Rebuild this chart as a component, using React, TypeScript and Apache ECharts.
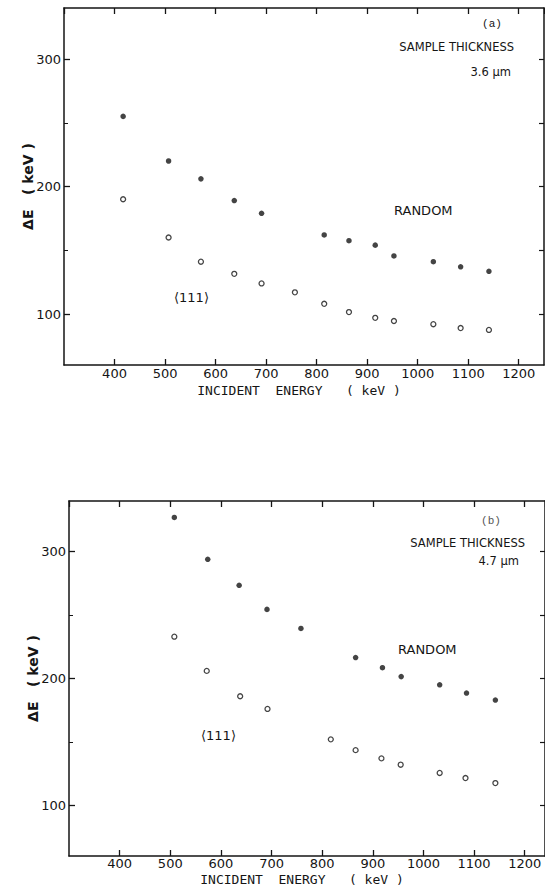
import React, { useEffect, useRef } from "react";
import * as echarts from "echarts";

// Panel (a): sample thickness 3.6 µm
const energyA_random = [417, 507, 571, 637, 691, 815, 864, 916, 953, 1031, 1085, 1141];
const deltaA_random = [255, 220, 206, 189, 179, 162, 157.5, 154, 145.5, 141, 137, 133.5];
const energyA_111 = [417, 507, 571, 637, 691, 757, 815, 864, 916, 953, 1031, 1085, 1141];
const deltaA_111 = [190, 160, 141, 131.5, 124, 117, 108, 101.5, 97, 94.5, 92, 89, 87.5];

// Panel (b): sample thickness 4.7 µm
const energyB_random = [508, 574, 636, 691, 758, 866, 919, 956, 1032, 1085, 1142];
const deltaB_random = [327, 294, 273.5, 254.5, 239.5, 216.5, 208.5, 201.5, 195, 188.5, 183];
const energyB_111 = [508, 572, 638, 692, 817, 866, 917, 955, 1032, 1083, 1142];
const deltaB_111 = [233, 206, 186, 176, 152, 143.5, 137, 132, 125.5, 121.5, 117.5];

const yMajorTicks = [100, 200, 300];
const yMinorTicks = [150, 250];
const yRightTicks = [100, 150, 200, 250, 300];

const xTitle = "INCIDENT  ENERGY   ( keV )";
const yTitle = "ΔE   ( keV )";

const INK = "#151515";
const FONT = "DejaVu Sans";

export default function App() {
  const ref = useRef<HTMLDivElement>(null);

  useEffect(() => {
    if (!ref.current) return;
    const chart = echarts.init(ref.current, undefined, { renderer: "svg" });

    const lineStyle = { color: INK, width: 1.5 };
    const plain = (v: number) => String(v);

    const xBottom = (gridIndex: number, max: number, nameGap: number, labelMargin: number) => ({
      type: "value",
      gridIndex,
      position: "bottom",
      min: 300,
      max,
      interval: 100,
      axisLine: { show: true, onZero: false, lineStyle },
      axisTick: { show: true, inside: true, length: 6, lineStyle: { color: INK, width: 1.3 } },
      axisLabel: {
        show: true,
        showMinLabel: false,
        showMaxLabel: false,
        margin: labelMargin,
        color: INK,
        fontSize: 13,
        fontFamily: FONT,
        formatter: plain,
      },
      splitLine: { show: false },
      name: xTitle,
      nameLocation: "middle",
      nameGap,
      nameMoveOverlap: false,
      nameTextStyle: { color: INK, fontSize: 13, fontFamily: "DejaVu Sans Mono", padding: [0, 10, 0, 0] },
    });

    const xTop = (gridIndex: number, max: number) => ({
      type: "value",
      gridIndex,
      position: "top",
      min: 300,
      max,
      interval: 100,
      axisLine: { show: true, onZero: false, lineStyle },
      axisTick: { show: true, inside: true, length: 6, lineStyle: { color: INK, width: 1.3 } },
      axisLabel: { show: false },
      splitLine: { show: false },
    });

    const yLeft = (gridIndex: number) => ({
      type: "value",
      gridIndex,
      position: "left",
      min: 60,
      max: 340,
      axisLine: { show: true, onZero: false, lineStyle },
      axisTick: { show: true, inside: true, length: 6, customValues: yMajorTicks, lineStyle: { color: INK, width: 1.3 } },
      axisLabel: { show: true, customValues: yMajorTicks, margin: 3, color: INK, fontSize: 13, fontFamily: FONT, formatter: plain },
      splitLine: { show: false },
      name: yTitle,
      nameLocation: "middle",
      nameRotate: 90,
      nameGap: 29,
      nameMoveOverlap: false,
      nameTextStyle: { color: INK, fontSize: 14, fontWeight: "bold", fontFamily: FONT },
    });

    const yLeftMinor = (gridIndex: number) => ({
      type: "value",
      gridIndex,
      position: "left",
      min: 60,
      max: 340,
      axisLine: { show: false },
      axisTick: { show: true, inside: true, length: 4, customValues: yMinorTicks, lineStyle: { color: INK, width: 1 } },
      axisLabel: { show: false },
      splitLine: { show: false },
    });

    const yRight = (gridIndex: number) => ({
      type: "value",
      gridIndex,
      position: "right",
      min: 60,
      max: 340,
      axisLine: { show: true, onZero: false, lineStyle },
      axisTick: { show: true, inside: true, length: 5, customValues: yRightTicks, lineStyle: { color: INK, width: 1.2 } },
      axisLabel: { show: false },
      splitLine: { show: false },
    });

    const zip = (xs: number[], ys: number[]) => xs.map((x, i) => [x, ys[i]]);

    const filled = { color: INK };
    const open = { color: "#ffffff", borderColor: INK, borderWidth: 1.3 };

    const label = (text: string, x: number, y: number, size: number, align: string, extra: any = {}) => ({
      type: "text",
      x,
      y,
      silent: true,
      style: {
        text,
        fill: INK,
        fontSize: size,
        fontFamily: FONT,
        align,
        verticalAlign: "middle",
        ...extra,
      },
    });

    chart.setOption({
      animation: false,
      backgroundColor: "#ffffff",
      grid: [
        { left: 64, top: 8, width: 480, height: 357 },
        { left: 69, top: 501, width: 476, height: 355 },
      ],
      xAxis: [
        xBottom(0, 1250, 19, 2),
        xTop(0, 1250),
        xBottom(1, 1240, 17, 1),
        xTop(1, 1240),
      ],
      yAxis: [
        yLeft(0),
        yLeftMinor(0),
        yRight(0),
        yLeft(1),
        yLeftMinor(1),
        yRight(1),
      ],
      series: [
        {
          name: "RANDOM (a)",
          type: "scatter",
          xAxisIndex: 0,
          yAxisIndex: 0,
          symbol: "circle",
          symbolSize: 5.5,
          itemStyle: filled,
          data: zip(energyA_random, deltaA_random),
        },
        {
          name: "⟨111⟩ (a)",
          type: "scatter",
          xAxisIndex: 0,
          yAxisIndex: 0,
          symbol: "circle",
          symbolSize: 5,
          itemStyle: open,
          data: zip(energyA_111, deltaA_111),
        },
        {
          name: "RANDOM (b)",
          type: "scatter",
          xAxisIndex: 2,
          yAxisIndex: 3,
          symbol: "circle",
          symbolSize: 5.5,
          itemStyle: filled,
          data: zip(energyB_random, deltaB_random),
        },
        {
          name: "⟨111⟩ (b)",
          type: "scatter",
          xAxisIndex: 2,
          yAxisIndex: 3,
          symbol: "circle",
          symbolSize: 5,
          itemStyle: open,
          data: zip(energyB_111, deltaB_111),
        },
      ],
      graphic: [
        label("(a)", 492, 24, 11, "center", { fontFamily: "Liberation Mono" }),
        label("SAMPLE THICKNESS", 514, 47, 11.5, "right"),
        label("3.6 μm", 511, 72, 11.5, "right"),
        label("RANDOM", 394, 210, 13, "left"),
        label("⟨111⟩", 174, 297, 13, "left"),
        label("(b)", 491, 521, 11, "center", { fontFamily: "Liberation Mono", fill: "#555" }),
        label("SAMPLE THICKNESS", 525, 543, 11.5, "right"),
        label("4.7 μm", 519, 561, 11.5, "right"),
        label("RANDOM", 398, 649, 13, "left"),
        label("⟨111⟩", 201, 735, 13, "left"),
      ],
    });

    return () => chart.dispose();
  }, []);

  return (
    <div
      ref={ref}
      style={{ position: "absolute", left: 0, top: 0, width: 545, height: 887, background: "#fff" }}
    />
  );
}
